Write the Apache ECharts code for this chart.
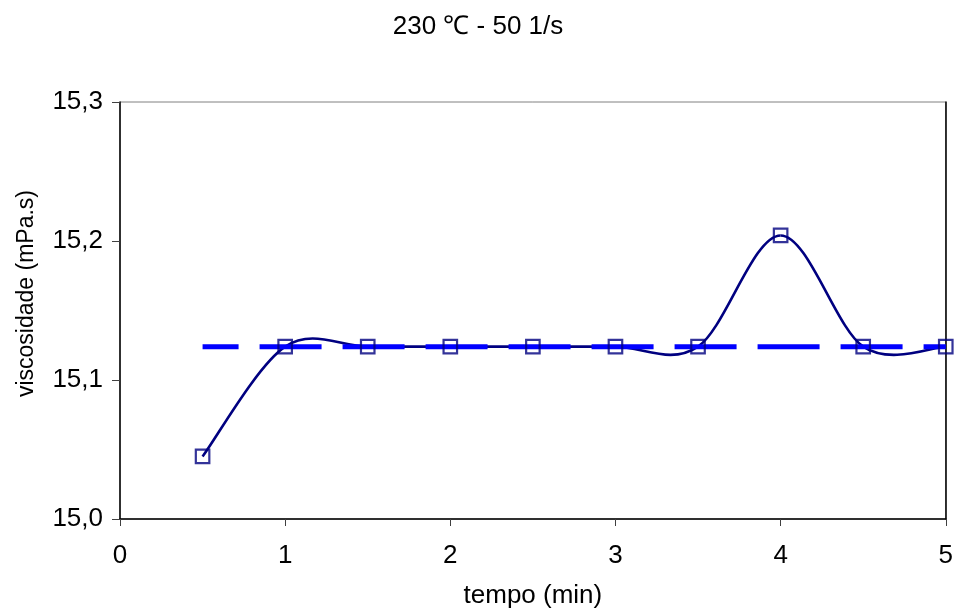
<!DOCTYPE html>
<html>
<head>
<meta charset="utf-8">
<script src="https://cdn.jsdelivr.net/npm/echarts@6/dist/echarts.min.js"></script>
<style>
html,body{margin:0;padding:0;background:#fff;}
#chart{width:956px;height:616px;}
</style>
</head>
<body>
<div id="chart"></div>
<script>
// Data
var tempo = [0.5, 1, 1.5, 2, 2.5, 3, 3.5, 4, 4.5, 5];
var viscosidade = [15.045, 15.124, 15.124, 15.124, 15.124, 15.124, 15.124, 15.204, 15.124, 15.124];
var mediaX = [0.5, 5];
var mediaY = [15.124, 15.124];
var xTicks = [0, 1, 2, 3, 4, 5];
var yTicks = [15.0, 15.1, 15.2, 15.3];

var titleText = '230 \u2103 - 50 1/s';
var xName = 'tempo (min)';
var yName = 'viscosidade (mPa.s)';

function pairs(xs, ys){ return xs.map(function(x,i){ return [x, ys[i]]; }); }

// Spreadsheet-style smoothed curve (Catmull-Rom Bezier), built through the axis scales
function renderSmooth(params, api){
  var i = params.dataIndex;
  var n = tempo.length;
  if (i >= n - 1) return null;
  function P(j){ j = Math.max(0, Math.min(n - 1, j)); return api.coord([tempo[j], viscosidade[j]]); }
  var p0 = P(i - 1), p1 = P(i), p2 = P(i + 1), p3 = P(i + 2);
  return {
    type:'bezierCurve',
    shape:{
      x1:p1[0], y1:p1[1], x2:p2[0], y2:p2[1],
      cpx1:p1[0] + (p2[0] - p0[0]) / 6, cpy1:p1[1] + (p2[1] - p0[1]) / 6,
      cpx2:p2[0] - (p3[0] - p1[0]) / 6, cpy2:p2[1] - (p3[1] - p1[1]) / 6
    },
    style:{fill:'none', stroke:'#000080', lineWidth:2.6}
  };
}

var font = 'Liberation Sans, Arial, sans-serif';
var chart = echarts.init(document.getElementById('chart'), null, {renderer:'canvas'});
chart.setOption({
  animation:false,
  backgroundColor:'#ffffff',
  title:{
    text:titleText, left:'center', top:9,
    textStyle:{fontFamily:font, fontSize:26, fontWeight:'normal', color:'#000'}
  },
  grid:{left:120, right:9, top:102, bottom:97, show:true, borderColor:'#808080', borderWidth:1, backgroundColor:'transparent'},
  xAxis:{
    type:'value', min:xTicks[0], max:xTicks[xTicks.length-1], interval:1,
    name:xName, nameLocation:'middle', nameGap:64,
    nameTextStyle:{fontFamily:font, fontSize:26, color:'#000'},
    axisLine:{show:true, onZero:false, lineStyle:{color:'#000', width:1.5}},
    axisTick:{show:true, length:7, lineStyle:{color:'#404040'}},
    axisLabel:{fontFamily:font, fontSize:26, color:'#000', margin:24},
    splitLine:{show:false}
  },
  yAxis:[{
    type:'value', min:yTicks[0], max:yTicks[yTicks.length-1], interval:0.1,
    name:yName, nameLocation:'middle', nameGap:82, nameRotate:90,
    nameTextStyle:{fontFamily:font, fontSize:23, color:'#000', padding:[0,0,0,34]},
    axisLine:{show:true, onZero:false, lineStyle:{color:'#000', width:1.5}},
    axisTick:{show:true, length:8, lineStyle:{color:'#404040'}},
    axisLabel:{fontFamily:font, fontSize:26, color:'#000', margin:17,
      formatter:function(v){ return v.toFixed(1).replace('.', ','); }},
    splitLine:{show:false}
  },{
    type:'value', position:'right', min:yTicks[0], max:yTicks[yTicks.length-1], interval:0.1,
    axisLine:{show:true, onZero:false, lineStyle:{color:'#000', width:1.5}},
    axisTick:{show:false}, axisLabel:{show:false}, splitLine:{show:false}
  }],
  series:[
    {
      type:'custom', name:'curve', data:pairs(tempo, viscosidade),
      encode:{x:0, y:1}, renderItem:renderSmooth, z:2, silent:true
    },
    {
      type:'line', name:'media', data:pairs(mediaX, mediaY),
      symbol:'none', z:3,
      lineStyle:{color:'#0000FF', width:5, type:[62,21], dashOffset:26, cap:'butt'}
    },
    {
      type:'scatter', name:'pontos', data:pairs(tempo, viscosidade),
      symbol:'rect', symbolSize:13.5, z:4,
      itemStyle:{color:'rgba(0,0,0,0)', borderColor:'#000080', borderWidth:2.2}
    }
  ]
});
</script>
</body>
</html>
